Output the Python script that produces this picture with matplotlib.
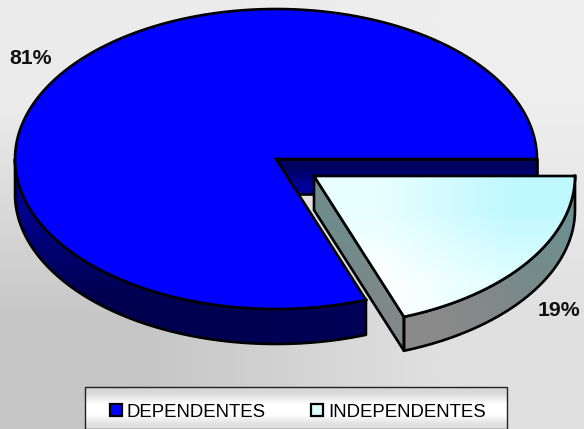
import numpy as np
import matplotlib
matplotlib.use('Agg')
import matplotlib.pyplot as plt
from matplotlib.patches import Polygon, Rectangle

plt.rcParams['font.family'] = ['Liberation Sans', 'DejaVu Sans']

categorias = ['DEPENDENTES', 'INDEPENDENTES']
valores = [80.6, 19.4]

# geometria do pie em pixels
cx, cy = 276, 159
rx, ry = 261, 150
altura = 35
dx_sep, dy_sep = 38, 17
lw_pie = 1.9

fig = plt.figure(figsize=(5.84, 4.29), dpi=100)
ax = fig.add_axes([0, 0, 1, 1])
ax.axis('off')


def gradiente(cantos, extent, clip=None, zorder=1):
    # cantos: [[sup esq, sup dir], [inf esq, inf dir]] em hex
    img = np.array([[matplotlib.colors.to_rgb(c) for c in linha] for linha in cantos])
    im = ax.imshow(img, extent=extent, interpolation='bilinear', aspect='auto', zorder=zorder)
    if clip is not None:
        p = Polygon(clip, closed=True, transform=ax.transData, fc='none', ec='none')
        ax.add_patch(p)
        im.set_clip_path(p)
    return im


def arco(t0, t1, ox=0, oy=0, dz=0, n=150):
    # angulos em graus, sentido horario no ecra
    t = np.radians(np.linspace(t0, t1, n))
    return np.column_stack([cx + ox + rx * np.cos(t), cy + oy + dz + ry * np.sin(t)])


def contorno(pts, z, fechado=False):
    pts = np.asarray(pts)
    if fechado:
        pts = np.vstack([pts, pts[:1]])
    ax.plot(pts[:, 0], pts[:, 1], color='black', lw=lw_pie, zorder=z, solid_joinstyle='round')


ang = valores[1] / sum(valores) * 360

# fundo
gradiente([['#ebebeb', '#eeeeee'], ['#c6c6c6', '#e0e0e0']], (0, 584, 429, 0), zorder=0)

# parede interior do corte
parede = [(cx, cy), (cx + rx, cy), (cx + rx, cy + altura), (cx, cy + altura)]
gradiente([['#000060', '#000060'], ['#000098', '#000098']], (cx, cx + rx, cy + altura, cy), parede, 2)
contorno(parede, 3, True)

# lateral da fatia grande
topo = arco(ang, 180)
base = arco(180, ang, dz=altura)
lado = np.vstack([topo, base])
gradiente([['#000090', '#000070'], ['#000050', '#000058']], (cx - rx, cx + rx, cy + ry + altura, cy), lado, 4)
contorno(lado, 5, True)

# topo da fatia grande
face = np.vstack([[(cx, cy)], arco(ang, 360)])
ax.add_patch(Polygon(face, closed=True, fc='#0000ff', ec='black', lw=lw_pie, zorder=6))

# fatia separada: paredes
ax_ap, ay_ap = cx + dx_sep, cy + dy_sep
fim = arco(ang, ang, dx_sep, dy_sep, n=1)[0]
lado_corte = [(ax_ap, ay_ap), tuple(fim), (fim[0], fim[1] + altura - 1), (ax_ap, ay_ap + altura - 1)]
gradiente([['#708c8c', '#708c8c'], ['#788888', '#808888']], (ax_ap, fim[0], fim[1] + altura, ay_ap), lado_corte, 7)
contorno(lado_corte, 8, True)

lado_ext = np.vstack([arco(0, ang, dx_sep, dy_sep), arco(ang, 0, dx_sep, dy_sep, altura - 1)])
gradiente([['#808888', '#6c9090'], ['#8a8a8a', '#7c8888']],
          (fim[0], ax_ap + rx, fim[1] + altura, ay_ap), lado_ext, 7)
contorno(lado_ext, 8, True)

# fatia separada: topo
face2 = np.vstack([[(ax_ap, ay_ap)], arco(0, ang, dx_sep, dy_sep)])
gradiente([['#e8ffff', '#c0f8ff'], ['#ffffff', '#e0ffff']], (ax_ap, ax_ap + rx, fim[1], ay_ap), face2, 9)
contorno(face2, 10, True)

# percentagens
ax.text(31, 58, f'{valores[0]:.0f}%', fontsize=15.3, fontweight='bold', ha='center', va='center', color='#111111', zorder=11)
ax.text(559, 310, f'{valores[1]:.0f}%', fontsize=15.3, fontweight='bold', ha='center', va='center', color='#111111', zorder=11)

# legenda
gradiente([['#d8d8d8', '#d8d8d8'], ['#ffffff', '#ffffff']], (85, 507, 410, 387), zorder=12)
gradiente([['#ffffff', '#ffffff'], ['#e0e0e0', '#e0e0e0']], (85, 507, 429, 410), zorder=12)
ax.add_patch(Rectangle((85, 387), 422, 42, fc='none', ec='#222222', lw=1, zorder=13))
cores = ['#0000ff', '#dcffff']
for nome, cor, xq, xt in zip(categorias, cores, [110, 311], [127, 328]):
    ax.add_patch(Rectangle((xq, 404), 12, 12, fc=cor, ec='black', lw=1.6, zorder=14))
    ax.text(xt, 417, nome, fontsize=13.4, ha='left', va='baseline', color='black', zorder=14)

ax.set_xlim(0, 584)
ax.set_ylim(429, 0)

plt.savefig('out.png', dpi=100)
